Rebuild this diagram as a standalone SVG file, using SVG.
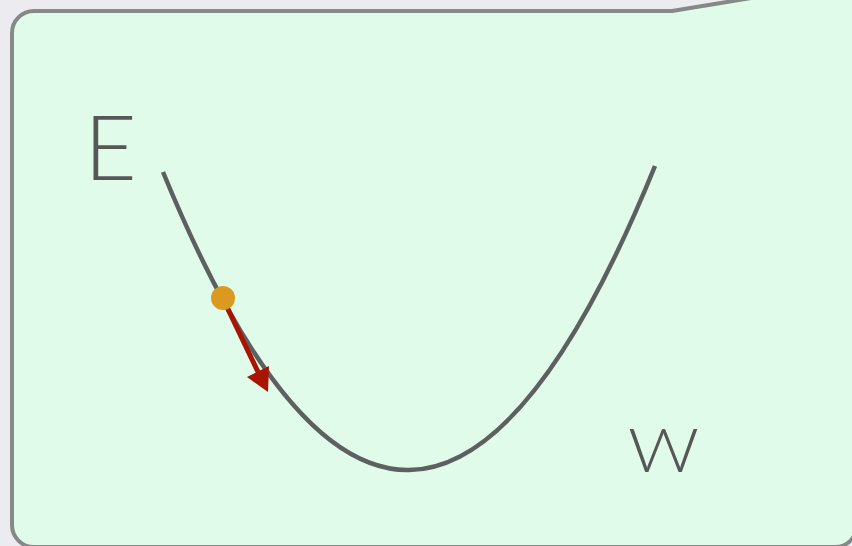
<svg xmlns="http://www.w3.org/2000/svg" width="852" height="546" viewBox="0 0 852 546">
  <style>
    .panel { fill: #e0fbe9; stroke: #858a88; stroke-width: 4; stroke-linejoin: round; }
    .curve { fill: none; stroke: #5e605f; stroke-width: 4.5; stroke-linecap: butt; }
    .label { font-family: Lato, "Open Sans", "Liberation Sans", sans-serif; font-weight: 300; fill: #575757; }
    .grad { stroke: #a81400; stroke-width: 5; fill: none; }
  </style>
  <rect x="0" y="0" width="852" height="546" fill="#ebebf0"/>
  <g id="panel">
    <path class="panel" d="M34,11 L672,11 L800,-10 L880,-10 L880,0 L857,0 L857,525 A22,22 0 0 1 835,547 L34,547 A22,22 0 0 1 12,525 L12,33 A22,22 0 0 1 34,11 Z"/>
  </g>
  <g id="axis-labels">
    <text id="label-E" class="label" x="84" y="180" font-size="91">E</text>
    <text id="label-W" class="label" x="628" y="472" font-size="62" textLength="71" lengthAdjust="spacingAndGlyphs">W</text>
  </g>
  <g id="connectors">
    <path id="energy-curve" class="curve" d="M163,172 Q409,771 655,166"/>
    <line class="grad" x1="225" y1="303" x2="259" y2="374"/>
    <polygon fill="#a81400" points="268,392 247,377 269,366"/>
  </g>
  <g id="point">
    <circle cx="223" cy="298" r="12" fill="#db9a1f"/>
  </g>
</svg>
